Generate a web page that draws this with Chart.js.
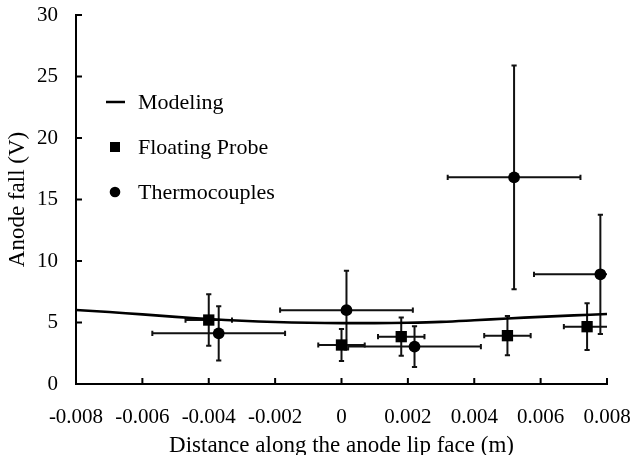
<!DOCTYPE html>
<html><head><meta charset="utf-8">
<script src="https://cdn.jsdelivr.net/npm/chart.js@4/dist/chart.umd.min.js"></script>
<style>html,body{margin:0;padding:0;background:#fff;}#wrap{width:631px;height:455px;}</style>
</head><body><div id="wrap"><canvas id="c" width="631" height="455"></canvas></div>
<script>
// ---- data ----
const modelX = [-0.008,-0.007,-0.006,-0.005,-0.004,-0.003,-0.002,-0.001,0,0.001,0.002,0.003,0.004,0.005,0.006,0.007,0.008];
const modelY = [6.02,5.85,5.66,5.46,5.28,5.14,5.04,4.98,4.95,4.95,4.98,5.05,5.18,5.33,5.46,5.58,5.69];

const probeX    = [-0.004, 0, 0.0018, 0.005, 0.0074];
const probeY    = [5.2, 3.17, 3.85, 3.93, 4.66];
const probeXErr = [0.0007, 0.0007, 0.0007, 0.0007, 0.0007];
const probeYErr = [2.1, 1.3, 1.55, 1.6, 1.9];

const thermoX    = [-0.0037, 0.00015, 0.0022, 0.0052, 0.0078];
const thermoY    = [4.12, 6.0, 3.04, 16.8, 8.92];
const thermoXErr = [0.002, 0.002, 0.002, 0.002, 0.002];
const thermoYErr = [2.2, 3.2, 1.65, 9.1, 4.85];

const xTickLabels = ['-0.008','-0.006','-0.004','-0.002','0','0.002','0.004','0.006','0.008'];
const yTickLabels = ['0','5','10','15','20','25','30'];
const seriesNames = ['Modeling','Floating Probe','Thermocouples'];
const xTitle = 'Distance along the anode lip face (m)';
const yTitle = 'Anode fall (V)';

const FONT = '"Liberation Serif", "Times New Roman", serif';
const pts = (xs, ys) => xs.map((x, i) => ({x, y: ys[i]}));

// error bars drawn through the scales
const errorBars = {
  id: 'errorBars',
  beforeDatasetsDraw(chart) {
    const {ctx, chartArea: a, scales: {x, y}} = chart;
    const sets = [[probeX, probeY, probeXErr, probeYErr],[thermoX, thermoY, thermoXErr, thermoYErr]];
    ctx.save();
    ctx.beginPath();
    ctx.rect(a.left, a.top - 10, a.right - a.left, a.bottom - a.top + 10);
    ctx.clip();
    ctx.strokeStyle = '#111';
    ctx.lineWidth = 2;
    const cap = 2.6;
    sets.forEach(([xs, ys, xe, ye]) => {
      xs.forEach((xv, i) => {
        const px = x.getPixelForValue(xv), py = y.getPixelForValue(ys[i]);
        const x1 = x.getPixelForValue(xv - xe[i]), x2 = x.getPixelForValue(xv + xe[i]);
        const y1 = y.getPixelForValue(ys[i] + ye[i]), y2 = y.getPixelForValue(ys[i] - ye[i]);
        ctx.beginPath();
        ctx.moveTo(x1, py); ctx.lineTo(x2, py);
        ctx.moveTo(x1, py - cap); ctx.lineTo(x1, py + cap);
        ctx.moveTo(x2, py - cap); ctx.lineTo(x2, py + cap);
        ctx.moveTo(px, y1); ctx.lineTo(px, y2);
        ctx.moveTo(px - cap, y1); ctx.lineTo(px + cap, y1);
        ctx.moveTo(px - cap, y2); ctx.lineTo(px + cap, y2);
        ctx.stroke();
      });
    });
    ctx.restore();
  }
};

// inward tick marks
const innerTicks = {
  id: 'innerTicks',
  afterDraw(chart) {
    const {ctx, chartArea: a, scales: {x, y}} = chart;
    ctx.save();
    ctx.strokeStyle = '#000';
    ctx.lineWidth = 2;
    ctx.beginPath();
    x.ticks.forEach(t => { const p = x.getPixelForValue(t.value); ctx.moveTo(p, a.bottom); ctx.lineTo(p, a.bottom - 6); });
    y.ticks.forEach(t => { const p = y.getPixelForValue(t.value); ctx.moveTo(a.left, p); ctx.lineTo(a.left + 6, p); });
    ctx.stroke();
    ctx.restore();
  }
};

// legend inside plot
const insideLegend = {
  id: 'insideLegend',
  afterDraw(chart) {
    const {ctx} = chart;
    const sx = 115, tx = 138, rows = [102, 147, 192];
    ctx.save();
    ctx.fillStyle = '#000'; ctx.strokeStyle = '#000';
    ctx.font = '22px ' + FONT;
    ctx.textBaseline = 'middle'; ctx.textAlign = 'left';
    ctx.lineWidth = 2.5;
    ctx.beginPath(); ctx.moveTo(sx - 9, rows[0]); ctx.lineTo(sx + 10, rows[0]); ctx.stroke();
    ctx.fillRect(sx - 5, rows[1] - 5, 10, 10);
    ctx.beginPath(); ctx.arc(sx, rows[2], 5.3, 0, Math.PI * 2); ctx.fill();
    seriesNames.forEach((n, i) => ctx.fillText(n, tx, rows[i] + 1));
    ctx.restore();
  }
};

new Chart(document.getElementById('c'), {
  type: 'scatter',
  data: {
    datasets: [
      { label: seriesNames[0], type: 'line', data: pts(modelX, modelY), showLine: true,
        borderColor: '#000', borderWidth: 2.6, pointRadius: 0, tension: 0.4, fill: false },
      { label: seriesNames[1], data: pts(probeX, probeY), pointStyle: 'rect', pointRadius: 8,
        backgroundColor: '#000', borderColor: '#000', borderWidth: 0, pointHoverRadius: 8 },
      { label: seriesNames[2], data: pts(thermoX, thermoY), pointStyle: 'circle', pointRadius: 5.9,
        backgroundColor: '#000', borderColor: '#000', borderWidth: 0, pointHoverRadius: 5.9 }
    ]
  },
  options: {
    responsive: false,
    animation: false,
    devicePixelRatio: 1,
    layout: { padding: { top: 15, right: 24, left: 0, bottom: 0 } },
    plugins: { legend: { display: false }, tooltip: { enabled: false } },
    scales: {
      x: {
        type: 'linear', position: 'bottom', min: -0.008, max: 0.008,
        grid: { display: false, drawTicks: false },
        border: { display: true, color: '#000', width: 2 },
        ticks: { stepSize: 0.002, autoSkip: false, maxRotation: 0, padding: 21,
          color: '#000', font: { family: FONT, size: 21 },
          callback: (v, i) => xTickLabels[i] },
        title: { display: true, text: xTitle, color: '#000',
          font: { family: FONT, size: 23 }, padding: { top: 0, bottom: -5 } },
        afterFit: s => { s.height = 71; s.paddingLeft = 0; s.paddingRight = 0; }
      },
      y: {
        type: 'linear', position: 'left', min: 0, max: 30,
        grid: { display: false, drawTicks: false },
        border: { display: true, color: '#000', width: 2 },
        ticks: { stepSize: 5, padding: 18, color: '#000', font: { family: FONT, size: 21 },
          callback: (v, i) => yTickLabels[i] },
        title: { display: true, text: yTitle, color: '#000',
          font: { family: FONT, size: 23 }, padding: { top: 4, bottom: 0 } },
        afterFit: s => { s.width = 76; s.paddingTop = 0; s.paddingBottom = 0; }
      }
    }
  },
  plugins: [errorBars, innerTicks, insideLegend]
});
</script>
</body></html>
